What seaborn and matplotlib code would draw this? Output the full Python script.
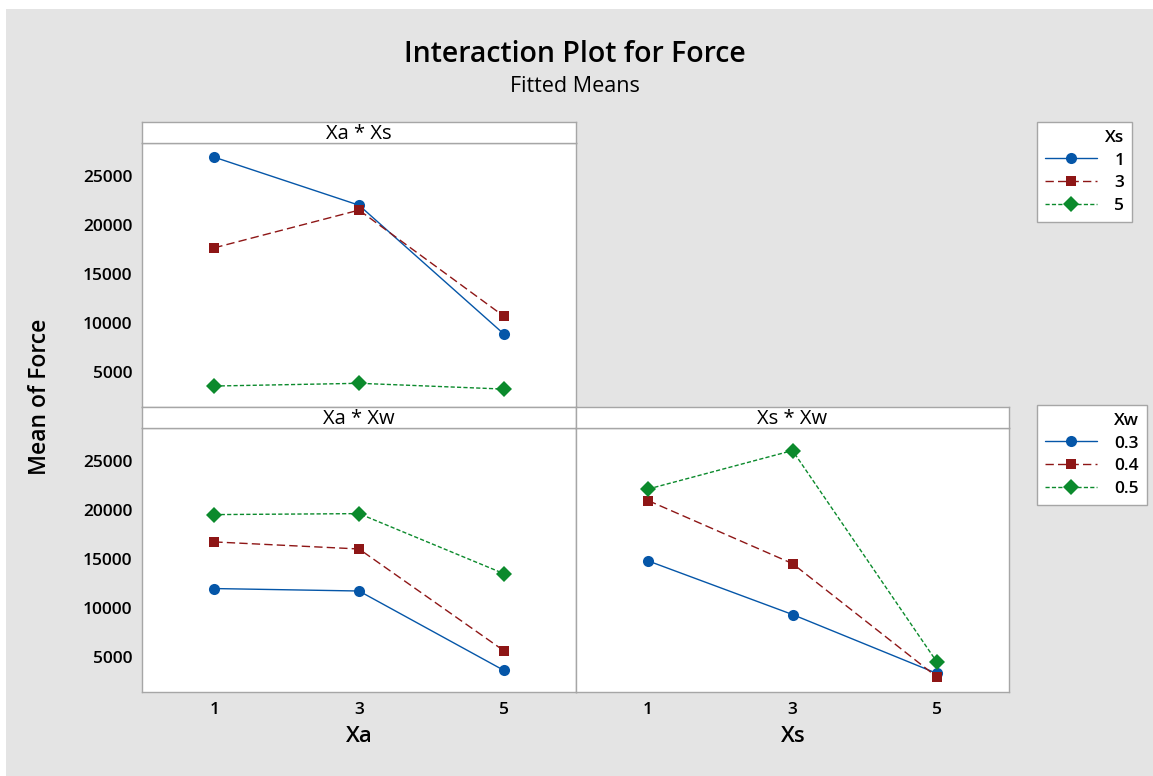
import numpy as np
import pandas as pd
import matplotlib
matplotlib.use("Agg")
import matplotlib.pyplot as plt
import seaborn as sns
from matplotlib.lines import Line2D
from matplotlib.patches import Rectangle

# Factor levels
levels = [1, 3, 5]
xs_labels = ["1", "3", "5"]
xw_labels = ["0.3", "0.4", "0.5"]
ytick_values = [5000, 10000, 15000, 20000, 25000]

# Fitted means of Force, Xa * Xs (one list per Xs level, over Xa = 1, 3, 5)
xa_xs_s1 = [26900, 22000, 8870]
xa_xs_s3 = [17650, 21500, 10680]
xa_xs_s5 = [3540, 3820, 3230]

# Xa * Xw (one list per Xw level, over Xa = 1, 3, 5)
xa_xw_w03 = [11960, 11710, 3620]
xa_xw_w04 = [16720, 16000, 5630]
xa_xw_w05 = [19510, 19610, 13490]

# Xs * Xw (one list per Xw level, over Xs = 1, 3, 5)
xs_xw_w03 = [14780, 9310, 3300]
xs_xw_w04 = [20940, 14510, 2940]
xs_xw_w05 = [22120, 26050, 4470]


def long_frame(series, names):
    rows = []
    for name, vals in zip(names, series):
        for x, v in zip(levels, vals):
            rows.append({"x": x, "mean": v, "group": name})
    return pd.DataFrame(rows)


sns.set_theme(style="white")
plt.rcParams["font.family"] = ["Open Sans", "DejaVu Sans"]
plt.rcParams["text.color"] = "black"
plt.rcParams["axes.labelcolor"] = "black"
plt.rcParams["xtick.color"] = "black"
plt.rcParams["ytick.color"] = "black"

BLUE, RED, GREEN = "#0556a8", "#8e1616", "#0b8a2c"
BG = "#e4e4e4"
FRAME = "#a6a6a6"
W, H = 1153, 776
MSIZE = {"o": 8.0, "s": 7.6, "D": 8.4}

fig = plt.figure(figsize=(W / 100, H / 100), dpi=100, facecolor="white")
fig.patches.append(Rectangle((6 / W, 0), 1 - 6 / W, 1 - 9 / H,
                             transform=fig.transFigure, facecolor=BG,
                             edgecolor="none", zorder=-10))


def fx(px):
    return px / W


def fy(py):
    return 1 - py / H


def panel(x0, x1, y0, y1):
    return fig.add_axes([fx(x0), fy(y1), fx(x1) - fx(x0), fy(y0) - fy(y1)])


def strip(x0, x1, y0, y1, text):
    sa = panel(x0, x1, y0, y1)
    sa.set_facecolor("white")
    sa.set_xticks([])
    sa.set_yticks([])
    for s in sa.spines.values():
        s.set_color(FRAME)
        s.set_linewidth(1)
    sa.text(0.5, 0.42, text, ha="center", va="center", fontsize=14.5,
            transform=sa.transAxes, color="black")
    return sa


def draw(ax, df, names):
    palette = dict(zip(names, [BLUE, RED, GREEN]))
    markers = dict(zip(names, ["o", "s", "D"]))
    dashes = dict(zip(names, ["", (6, 3), (3, 1.6)]))
    sns.lineplot(data=df, x="x", y="mean", hue="group", style="group",
                 hue_order=names, style_order=names, palette=palette,
                 markers=markers, dashes=dashes, linewidth=1.0,
                 markeredgewidth=0, legend=False, ax=ax)
    for ln in ax.lines:
        ln.set_markersize(MSIZE.get(ln.get_marker(), 7))
    ax.set_xlim(0, 6)
    ax.set_ylim(1400, 28350)
    ax.set_xlabel("")
    ax.set_ylabel("")
    ax.set_facecolor("white")
    for s in ax.spines.values():
        s.set_color(FRAME)
        s.set_linewidth(1)
    ax.tick_params(axis="both", direction="out", length=4, width=1,
                   color=FRAME, labelsize=12.5, labelcolor="black", pad=3)
    ax.set_xticks(levels)
    ax.set_yticks(ytick_values)


def bold_ticks(ax):
    for t in ax.get_xticklabels() + ax.get_yticklabels():
        t.set_fontweight("semibold")


# Top-left: Xa * Xs
ax1 = panel(142, 576, 143, 407)
draw(ax1, long_frame([xa_xs_s1, xa_xs_s3, xa_xs_s5], xs_labels), xs_labels)
ax1.tick_params(axis="x", bottom=False, labelbottom=False)
ax1.set_yticklabels([str(v) for v in ytick_values])
bold_ticks(ax1)
strip(142, 576, 122, 143, "Xa * Xs")

# Bottom-left: Xa * Xw
ax2 = panel(142, 576, 428, 692)
draw(ax2, long_frame([xa_xw_w03, xa_xw_w04, xa_xw_w05], xw_labels), xw_labels)
ax2.set_xticklabels([str(v) for v in levels])
ax2.set_yticklabels([str(v) for v in ytick_values])
bold_ticks(ax2)
strip(142, 576, 407, 428, "Xa * Xw")

# Bottom-right: Xs * Xw
ax3 = panel(576, 1009, 428, 692)
draw(ax3, long_frame([xs_xw_w03, xs_xw_w04, xs_xw_w05], xw_labels), xw_labels)
ax3.set_xticklabels([str(v) for v in levels])
ax3.tick_params(axis="y", left=False, labelleft=False)
bold_ticks(ax3)
strip(576, 1009, 407, 428, "Xs * Xw")

# Titles and axis labels
fig.text(fx(575), fy(55), "Interaction Plot for Force", ha="center",
         va="center", fontsize=20.5, fontweight="semibold")
fig.text(fx(575), fy(87), "Fitted Means", ha="center", va="center",
         fontsize=15.5)
fig.text(fx(40), fy(397), "Mean of Force", ha="center", va="center",
         rotation=90, fontsize=16.5, fontweight="semibold")
fig.text(fx(359), fy(737), "Xa", ha="center", va="center", fontsize=16,
         fontweight="semibold")
fig.text(fx(793), fy(737), "Xs", ha="center", va="center", fontsize=16,
         fontweight="semibold")


def handles():
    spec = [(BLUE, "o", "-", MSIZE["o"]),
            (RED, "s", (0, (6, 3)), MSIZE["s"]),
            (GREEN, "D", (0, (3, 1.6)), MSIZE["D"])]
    return [Line2D([], [], color=c, marker=m, linestyle=ls, linewidth=1.0,
                   markersize=ms, markeredgewidth=0) for c, m, ls, ms in spec]


for title, labels, top in [("Xs", xs_labels, 122), ("Xw", xw_labels, 405)]:
    leg = fig.legend(handles(), labels, title=title, loc="upper left",
                     bbox_to_anchor=(fx(1037), fy(top)), frameon=True,
                     fancybox=False, framealpha=1.0, fontsize=12.5,
                     title_fontsize=12.5, handlelength=3.0,
                     handletextpad=1.0, labelspacing=0.38, borderpad=0.45,
                     alignment="right", borderaxespad=0)
    leg.get_frame().set_edgecolor(FRAME)
    leg.get_frame().set_linewidth(1)
    leg.get_frame().set_facecolor("white")
    for t in leg.get_texts():
        t.set_fontweight("semibold")
    leg.get_title().set_fontweight("semibold")

fig.savefig("out.png", dpi=100, facecolor=fig.get_facecolor())
